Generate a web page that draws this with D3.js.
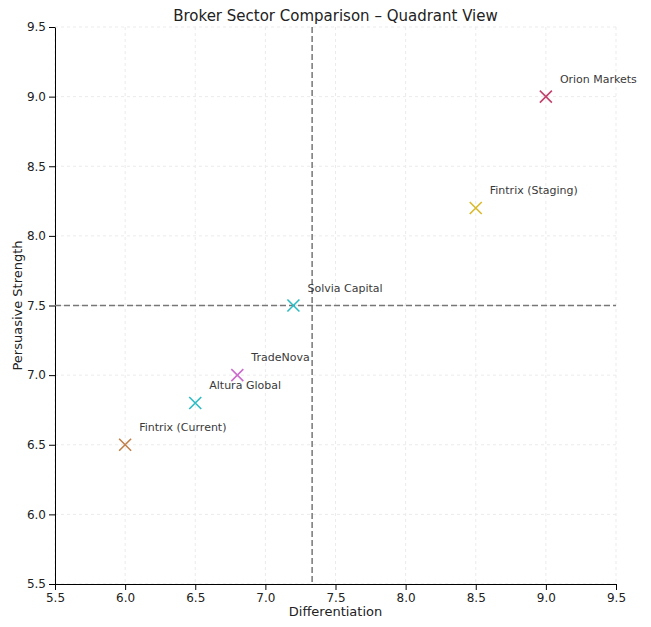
<!DOCTYPE html>
<html><head><meta charset="utf-8">
<script src="https://cdn.jsdelivr.net/npm/d3@7"></script>
<style>body{margin:0;background:#fff;font-family:"DejaVu Sans",sans-serif}</style>
</head><body><svg id="c" width="651" height="627"></svg>
<script>
const names=["Orion Markets","Fintrix (Staging)","Solvia Capital","TradeNova","Altura Global","Fintrix (Current)"];
const xVals=[9.0,8.5,7.2,6.8,6.5,6.0];
const yVals=[9.0,8.2,7.5,7.0,6.8,6.5];
const colors=["#c2426d","#d9b92b","#2bbcc4","#cc6ccc","#2bbcc4","#c0804a"];
const ticks=[5.5,6.0,6.5,7.0,7.5,8.0,8.5,9.0,9.5];
const svg=d3.select("#c");
const L=55,R=616,T=27,B=584;
const x=d3.scaleLinear().domain([5.5,9.5]).range([L,R]);
const y=d3.scaleLinear().domain([5.5,9.5]).range([B,T]);
const g=svg.append("g");
g.selectAll(".gx").data(ticks).join("line").attr("x1",d=>x(d)).attr("x2",d=>x(d)).attr("y1",T).attr("y2",B).attr("stroke","#ebebeb").attr("stroke-dasharray","3,3");
g.selectAll(".gy").data(ticks).join("line").attr("y1",d=>y(d)).attr("y2",d=>y(d)).attr("x1",L).attr("x2",R).attr("stroke","#ebebeb").attr("stroke-dasharray","3,3");
const fmt=d3.format(".1f");
svg.append("g").attr("transform",`translate(0,${B})`).call(d3.axisBottom(x).tickValues(ticks).tickFormat(fmt).tickSizeOuter(0)).call(a=>a.selectAll("text").attr("font-size",12).attr("fill","#222").attr("font-family","DejaVu Sans"));
svg.append("g").attr("transform",`translate(${L},0)`).call(d3.axisLeft(y).tickValues(ticks).tickFormat(fmt).tickSizeOuter(0)).call(a=>a.selectAll("text").attr("font-size",12).attr("fill","#222").attr("font-family","DejaVu Sans"));
const mx=d3.mean(xVals),my=d3.mean(yVals);
svg.append("line").attr("x1",x(mx)).attr("x2",x(mx)).attr("y1",T).attr("y2",B).attr("stroke","#777").attr("stroke-width",1.5).attr("stroke-dasharray","6,3");
svg.append("line").attr("y1",y(my)).attr("y2",y(my)).attr("x1",L).attr("x2",R).attr("stroke","#777").attr("stroke-width",1.5).attr("stroke-dasharray","6,3");
const s=6;
names.forEach((n,i)=>{
  const cx=x(xVals[i]),cy=y(yVals[i]);
  svg.append("path").attr("d",`M${cx-s},${cy-s}L${cx+s},${cy+s}M${cx-s},${cy+s}L${cx+s},${cy-s}`).attr("stroke",colors[i]).attr("stroke-width",1.6);
  svg.append("text").attr("x",cx+14).attr("y",cy-14).attr("font-size",11).attr("fill","#3a3a3a").text(n);
});
svg.append("text").attr("x",(L+R)/2).attr("y",21).attr("text-anchor","middle").attr("font-size",15).attr("fill","#222").text("Broker Sector Comparison – Quadrant View");
svg.append("text").attr("x",(L+R)/2).attr("y",616).attr("text-anchor","middle").attr("font-size",13).attr("fill","#222").text("Differentiation");
svg.append("text").attr("transform",`translate(22,${(T+B)/2}) rotate(-90)`).attr("text-anchor","middle").attr("font-size",13).attr("fill","#222").text("Persuasive Strength");
</script></body></html>
